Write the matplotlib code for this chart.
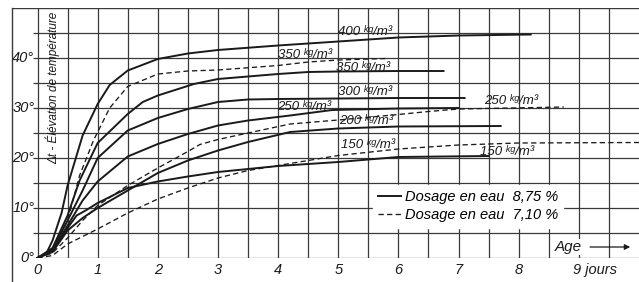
import matplotlib.pyplot as plt
from matplotlib.lines import Line2D

# temperature rise curves (age in days, rise in degrees)
# solid = water dosage 8.75 %
days_400 = [0, 0.15, 0.25, 0.4, 0.5, 0.75, 1.0, 1.2, 1.5, 2.0, 2.5, 3.0, 4.0, 5.0, 6.0, 7.0, 8.2]
temp_400 = [0, 1.0, 3.5, 9.0, 14.5, 24.5, 30.8, 34.6, 37.5, 39.8, 40.9, 41.6, 42.5, 43.3, 44.1, 44.5, 44.7]

days_350 = [0, 0.25, 0.5, 0.7, 1.0, 1.5, 1.75, 2.0, 2.6, 3.0, 4.0, 4.5, 5.0, 6.0, 6.75]
temp_350 = [0, 2.0, 8.5, 15.5, 23.0, 28.8, 31.2, 32.5, 34.8, 35.8, 36.8, 37.2, 37.3, 37.4, 37.4]

days_300 = [0, 0.25, 0.5, 0.75, 1.0, 1.5, 2.0, 2.5, 3.0, 3.5, 4.0, 5.0, 6.0, 7.1]
temp_300 = [0, 1.8, 7.5, 13.5, 20.0, 25.5, 28.0, 29.8, 31.2, 31.7, 31.8, 31.9, 32.0, 32.0]

days_250 = [0, 0.25, 0.5, 0.75, 1.0, 1.5, 2.0, 2.5, 3.0, 3.5, 4.2, 4.9, 6.0, 7.0]
temp_250 = [0, 1.5, 6.5, 11.5, 15.3, 20.3, 22.8, 24.8, 26.5, 27.5, 28.5, 29.6, 29.9, 30.0]

days_200 = [0, 0.25, 0.5, 0.75, 1.0, 1.5, 2.0, 2.5, 3.0, 3.5, 4.2, 5.0, 6.0, 7.7]
temp_200 = [0, 1.2, 5.5, 8.0, 10.0, 13.5, 17.0, 19.5, 21.5, 23.2, 25.2, 25.9, 26.3, 26.4]

days_150 = [0, 0.25, 0.5, 0.65, 0.8, 1.0, 1.5, 2.0, 2.5, 3.0, 3.5, 4.0, 5.0, 6.0, 7.5]
temp_150 = [0, 1.5, 6.0, 8.5, 9.5, 11.0, 14.0, 15.3, 16.3, 17.2, 17.8, 18.4, 19.2, 20.2, 20.4]

# dashed = water dosage 7.10 %
days_350d = [0, 0.25, 0.5, 0.7, 0.93, 1.2, 1.5, 2.0, 2.5, 3.0, 4.0, 4.5, 5.0, 5.8]
temp_350d = [0, 1.5, 7.5, 16.5, 23.5, 30.0, 34.3, 36.8, 37.4, 37.6, 38.5, 39.2, 39.6, 39.9]

days_250d = [0, 0.25, 0.5, 0.75, 1.0, 1.5, 2.0, 2.5, 2.7, 3.0, 3.5, 4.2, 5.0, 6.0, 6.5, 7.0, 8.75]
temp_250d = [0, 1.0, 4.0, 7.5, 10.5, 14.5, 18.0, 21.3, 22.7, 23.7, 25.0, 26.8, 27.6, 28.7, 29.3, 29.8, 30.2]

days_150d = [0, 0.25, 0.5, 1.0, 1.5, 2.0, 2.5, 3.0, 3.5, 4.0, 4.5, 5.0, 6.0, 7.0, 8.0, 10.0]
temp_150d = [0, 0.5, 2.8, 5.8, 9.0, 11.8, 14.0, 16.0, 17.5, 18.5, 19.5, 20.5, 21.8, 22.6, 23.0, 23.1]

# curve labels: text, x, y
label_text = ['400 ᵏᵍ/m³', '350 ᵏᵍ/m³', '350 ᵏᵍ/m³', '300 ᵏᵍ/m³', '250 ᵏᵍ/m³',
              '200 ᵏᵍ/m³', '150 ᵏᵍ/m³', '250 ᵏᵍ/m³', '150 ᵏᵍ/m³']
label_x = [5.45, 4.44, 5.42, 5.44, 4.43, 5.47, 5.5, 7.87, 7.8]
label_y = [45.2, 40.6, 38.0, 33.2, 30.2, 27.3, 22.6, 31.4, 21.2]

x_ticks = [0, 1, 2, 3, 4, 5, 6, 7, 8]
y_ticks = [0, 10, 20, 30, 40]

FONT = ['Liberation Sans', 'DejaVu Sans']
plt.rcParams['font.family'] = FONT
plt.rcParams['font.style'] = 'italic'

INK = '#1a1a1a'
GRID = '#3a3a3a'

fig = plt.figure(figsize=(6.39, 2.82), dpi=100)
ax = fig.add_axes([12/639, 24/282, 627/639, 250/282])
ax.set_xlim(-0.424, 10.0)
ax.set_ylim(0, 50)
ax.set_axis_off()

# grid of the paper
ax.vlines([i * 0.5 for i in range(20)], 0, 50, color=GRID, lw=0.9, zorder=1)
ax.hlines([i * 5 for i in range(10)], -0.07, 10, color=GRID, lw=0.9, zorder=1)
ax.hlines(50, -0.424, 10, color=GRID, lw=1.0, zorder=1)
fig.add_artist(Line2D([12/639, 12/639], [0, 274/282], color=GRID, lw=1.0))

solid = dict(color=INK, lw=1.4, zorder=3)
dashed = dict(color=INK, lw=0.95, ls=(0, (4, 2.5)), zorder=3)

h1, = ax.plot(days_400, temp_400, **solid)
ax.plot(days_350, temp_350, **solid)
ax.plot(days_300, temp_300, **solid)
ax.plot(days_250, temp_250, **solid)
ax.plot(days_200, temp_200, **solid)
ax.plot(days_150, temp_150, **solid)
h2, = ax.plot(days_350d, temp_350d, **dashed)
ax.plot(days_250d, temp_250d, **dashed)
ax.plot(days_150d, temp_150d, **dashed)

for t, x, y in zip(label_text, label_x, label_y):
    ax.text(x, y, t, ha='center', va='center', fontsize=9.5, color=INK, zorder=4)

# tick labels drawn by hand, like on the original
for d in x_ticks:
    ax.text(d, -2.4, str(d), ha='center', va='center', fontsize=10.5, color=INK, clip_on=False)
ax.text(8.9, -2.4, '9 jours', ha='left', va='center', fontsize=10.5, color=INK, clip_on=False)
for v in y_ticks:
    ax.text(-0.05, v, f'{v}°', ha='right', va='center', fontsize=10.5, color=INK)

ax.text(0.25, 34.0, 'Δt - Élévation de température', rotation=90, ha='center', va='center',
        fontsize=8.5, color=INK, zorder=4)

# age arrow
ax.text(8.83, 2.2, 'Age', ha='center', va='center', fontsize=11, color=INK, zorder=4,
        bbox=dict(facecolor='white', edgecolor='none', pad=1))
ax.annotate('', xy=(9.9, 2.2), xytext=(9.14, 2.2),
            arrowprops=dict(arrowstyle='-|>', color=INK, lw=0.9, mutation_scale=8))

leg = ax.legend([h1, h2], ['Dosage en eau  8,75 %', 'Dosage en eau  7,10 %'],
                loc='upper left', bbox_to_anchor=(0.575, 0.292), fontsize=10.5,
                frameon=True, fancybox=False, handlelength=1.6, handletextpad=0.25,
                labelspacing=0.3, borderpad=0.35, borderaxespad=0)
leg.get_frame().set_edgecolor('white')
leg.get_frame().set_facecolor('white')
leg.get_frame().set_alpha(1)
leg.set_zorder(5)

fig.savefig('out.png', dpi=100, facecolor='white')
